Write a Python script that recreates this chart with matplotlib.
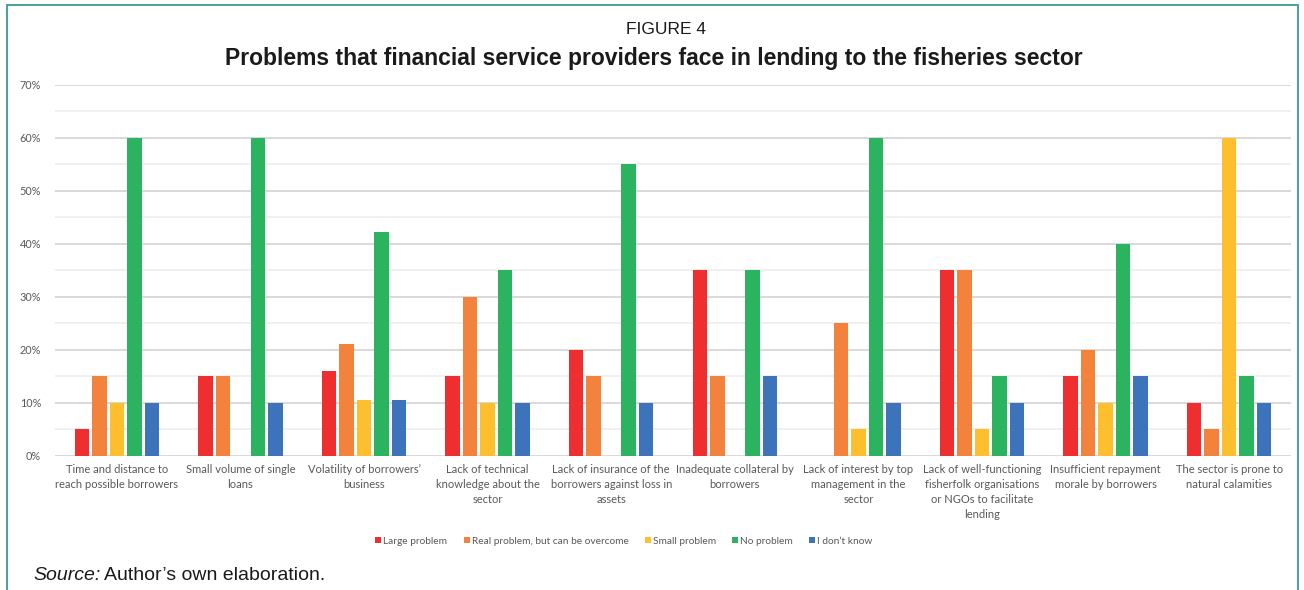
import numpy as np
import matplotlib
matplotlib.use("Agg")
import matplotlib.pyplot as plt
from matplotlib.patches import Rectangle
from matplotlib.ticker import MultipleLocator, FuncFormatter

categories = [
    "Time and distance to\nreach possible borrowers",
    "Small volume of single\nloans",
    "Volatility of borrowers\u2019\nbusiness",
    "Lack of technical\nknowledge about the\nsector",
    "Lack of insurance of the\nborrowers against loss in\nassets",
    "Inadequate collateral by\nborrowers",
    "Lack of interest by top\nmanagement in the\nsector",
    "Lack of well-functioning\nfisherfolk organisations\nor NGOs to facilitate\nlending",
    "Insufficient repayment\nmorale by borrowers",
    "The sector is prone to\nnatural calamities",
]

series_names = [
    "Large problem",
    "Real problem, but can be overcome",
    "Small problem",
    "No problem",
    "I don\u2019t know",
]

large_problem = [5, 15, 16, 15, 20, 35, 0, 35, 15, 10]
real_problem = [15, 15, 21, 30, 15, 15, 25, 35, 20, 5]
small_problem = [10, 0, 10.5, 10, 0, 0, 5, 5, 10, 60]
no_problem = [60, 60, 42.2, 35, 55, 35, 60, 15, 40, 15]
dont_know = [10, 10, 10.5, 10, 10, 15, 10, 10, 15, 10]

series_values = [large_problem, real_problem, small_problem, no_problem, dont_know]
colors = ["#EE2E2F", "#F3823C", "#FDBF2D", "#2BB35F", "#3C73BA"]

W, H = 1304, 590
fig = plt.figure(figsize=(W / 100, H / 100), dpi=100)

# outer frame
fig.patches.append(Rectangle((7 / W, -0.05), (1298 - 7) / W, 1.05 - 5 / H,
                             transform=fig.transFigure, fill=False,
                             edgecolor="#3A9A98", linewidth=1.3, zorder=0))

ax = fig.add_axes([55 / W, 1 - 455.5 / H, (1291 - 55) / W, (455.5 - 85) / H])

x = np.arange(len(categories))
step = 0.1416
width = 0.118
for i, (vals, col, name) in enumerate(zip(series_values, colors, series_names)):
    offs = (i - 2) * step
    ax.bar(x + offs, np.array(vals) / 100.0, width=width, color=col, label=name, zorder=3)

ax.set_xlim(-0.5, len(categories) - 0.5)
ax.set_ylim(0, 0.70)
ax.yaxis.set_major_locator(MultipleLocator(0.10))
ax.yaxis.set_minor_locator(MultipleLocator(0.05))
ax.yaxis.set_major_formatter(FuncFormatter(lambda v, p: f"{v * 100:.0f}%"))
ax.grid(axis="y", which="major", color="#D9D9D9", linewidth=1.4, zorder=0)
ax.grid(axis="y", which="minor", color="#EDEDED", linewidth=1.2, zorder=0)
ax.set_axisbelow(True)
for s in ax.spines.values():
    s.set_visible(False)

ax.set_xticks(x)
ax.set_xticklabels(categories, fontsize=8, color="#595959", family="Lato", linespacing=1.45)
ax.tick_params(axis="x", length=0, pad=6)
ax.tick_params(axis="y", which="both", length=0, pad=10, labelsize=7.8, labelcolor="#595959")
for t in ax.get_yticklabels():
    t.set_family("Lato")

fig.text(666 / W, 1 - 30 / H, "FIGURE 4", ha="center", va="center",
         fontsize=12.5, family="Liberation Sans", color="#1a1a1a")
fig.text(654 / W, 1 - 58 / H,
         "Problems that financial service providers face in lending to the fisheries sector",
         ha="center", va="center", fontsize=16.5, fontweight="bold",
         family="Liberation Sans", color="#1a1a1a")

leg = fig.legend(loc="center", bbox_to_anchor=(624 / W, 1 - 541 / H), ncol=5,
                 frameon=False, handlelength=0.6, handleheight=0.6, handletextpad=0.2,
                 columnspacing=1.6, prop={"family": "Lato", "size": 7.3})
for t in leg.get_texts():
    t.set_color("#595959")

fig.text(33 / W, 1 - 575 / H, "Source:", ha="left", va="center", fontsize=14,
         style="italic", family="Liberation Sans", color="#1a1a1a")
fig.text(104 / W, 1 - 575 / H, "Author\u2019s own elaboration.", ha="left", va="center",
         fontsize=14, family="Liberation Sans", color="#1a1a1a")

fig.savefig("out.png", dpi=100)
